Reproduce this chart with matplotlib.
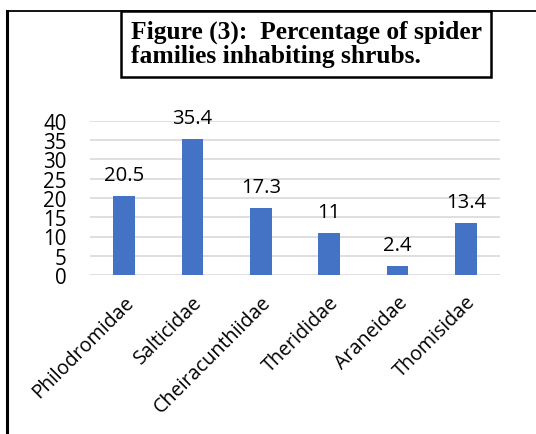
import matplotlib
matplotlib.use("Agg")
import matplotlib.pyplot as plt
from matplotlib.lines import Line2D
from matplotlib.patches import Rectangle

families = ["Philodromidae", "Salticidae", "Cheiracunthiidae", "Therididae", "Araneidae", "Thomisidae"]
percentages = [20.5, 35.4, 17.3, 11, 2.4, 13.4]
y_ticks = [0, 5, 10, 15, 20, 25, 30, 35, 40]
title_text = "Figure (3):  Percentage of spider\nfamilies inhabiting shrubs."

W, H = 536, 435
fig = plt.figure(figsize=(W / 100, H / 100), dpi=100)
fig.patch.set_facecolor("white")

ax = fig.add_axes([90 / W, 1 - 276 / H, 410 / W, 154 / H])
x = range(len(families))
bars = ax.bar(x, percentages, width=0.32, color="#4472C4", zorder=3)
ax.set_xlim(-0.5, len(families) - 0.5)
ax.set_ylim(0, 40)
ax.set_yticks(y_ticks)
ax.set_yticklabels([str(t) for t in y_ticks], fontsize=14.8, family="Open Sans")
ax.yaxis.grid(True, color="#d9d9d9", linewidth=1.2, zorder=0)
ax.tick_params(axis="both", length=0)
ax.tick_params(axis="y", pad=17)
for s in ax.spines.values():
    s.set_visible(False)
ax.set_xticks(list(x))
ax.set_xticklabels(families, rotation=45, ha="right", va="top",
                   rotation_mode="anchor", fontsize=14.2, family="Open Sans")
ax.tick_params(axis="x", pad=12)

for xi, v in zip(x, percentages):
    ax.annotate(f"{v:g}", (xi, v), xytext=(0, 8), textcoords="offset points",
                ha="center", va="bottom", fontsize=14.6, family="Open Sans",
                annotation_clip=False)

# outer frame (left and top edges)
fig.add_artist(Line2D([7 / W, 7 / W], [0, 1 - 12 / H], color="black", lw=2.2,
                      transform=fig.transFigure))
fig.add_artist(Line2D([7 / W, 1], [1 - 12 / H, 1 - 12 / H], color="black", lw=1.3,
                      transform=fig.transFigure))

# title box
fig.add_artist(Rectangle((121 / W, 1 - 78 / H), (491 - 121) / W, (78 - 12) / H,
                         fill=True, facecolor="white", edgecolor="black", lw=1.8,
                         transform=fig.transFigure))
fig.text(131 / W, 1 - 44 / H, title_text, ha="left", va="center",
         fontsize=18.4, fontweight="bold", family="Liberation Serif",
         linespacing=1.05)

fig.savefig("out.png", dpi=100)
